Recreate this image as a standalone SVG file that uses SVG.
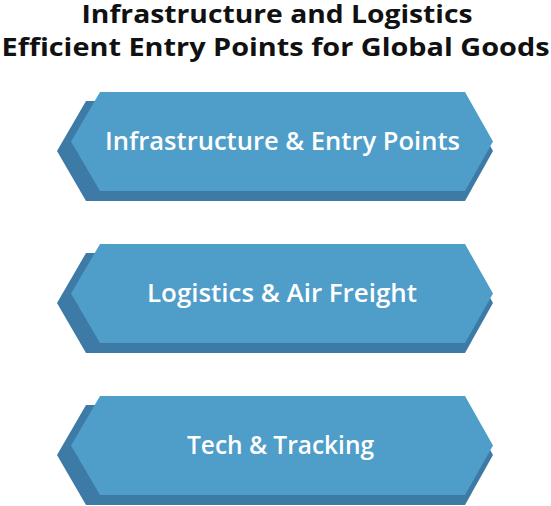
<svg xmlns="http://www.w3.org/2000/svg" width="551" height="506" viewBox="0 0 551 506">
<style>
.title{font-family:"Open Sans","Noto Sans","DejaVu Sans",sans-serif;font-weight:bold;font-size:25px;fill:#111;text-anchor:middle}
.back{fill:#3d7ba6}
.front{fill:#4f9dc9}
.lbl{font-family:"Open Sans","Noto Sans","DejaVu Sans",sans-serif;font-weight:600;font-size:25px;fill:#ffffff;text-anchor:middle}
</style>
<rect width="551" height="506" fill="#ffffff"/>
<text class="title" x="277" y="23" textLength="391" lengthAdjust="spacingAndGlyphs">Infrastructure and Logistics</text>
<text class="title" x="275.5" y="56" textLength="548" lengthAdjust="spacingAndGlyphs">Efficient Entry Points for Global Goods</text>
<g id="node1">
<polygon class="back" points="86,101 465,101 493,151 465,201 86,201 57,151"/>
<polygon class="front" points="100,92 465,92 493,141.5 465,191 100,191 71,141.5"/>
<text class="lbl" x="282.5" y="149.5" textLength="355" lengthAdjust="spacingAndGlyphs">Infrastructure &amp; Entry Points</text>
</g>
<g id="node2">
<polygon class="back" points="86,253 465,253 493,303 465,353 86,353 57,303"/>
<polygon class="front" points="100,244 465,244 493,293.5 465,343 100,343 71,293.5"/>
<text class="lbl" x="282" y="301.5" textLength="270" lengthAdjust="spacingAndGlyphs">Logistics &amp; Air Freight</text>
</g>
<g id="node3">
<polygon class="back" points="86,405 465,405 493,455 465,505 86,505 57,455"/>
<polygon class="front" points="100,396 465,396 493,445.5 465,495 100,495 71,445.5"/>
<text class="lbl" x="280.5" y="453.5" textLength="187" lengthAdjust="spacingAndGlyphs">Tech &amp; Tracking</text>
</g>
<g id="connectors"></g>
</svg>
